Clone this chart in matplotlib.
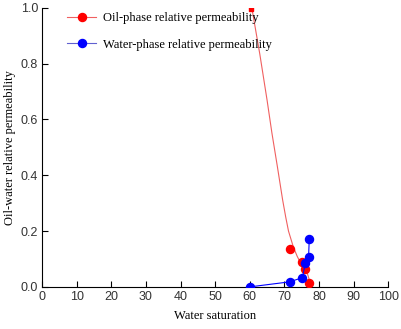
import matplotlib.pyplot as plt
from matplotlib.lines import Line2D

# ========== data ==========
# oil-phase measured points
oil_sw = [71.5, 75.0, 76.1, 77.2]
oil_kr = [0.137, 0.090, 0.065, 0.014]

# oil-phase end point (drawn as a small mark at the top)
oil_end_sw = [60.5]
oil_end_kr = [0.995]

# oil-phase fitted curve (as drawn in the reference)
oil_fit_sw = [60.6, 62.9, 65.0, 66.4, 68.0, 69.5, 70.4, 71.2, 72.6, 73.7, 74.6, 76.3, 77.5]
oil_fit_kr = [1.0, 0.835, 0.670, 0.552, 0.430, 0.312, 0.250, 0.200, 0.143, 0.110, 0.088, 0.062, 0.014]

# water-phase points
water_sw = [60.0, 71.5, 75.2, 76.1, 77.0, 77.2]
water_kr = [0.0, 0.018, 0.033, 0.086, 0.107, 0.172]

xticks = list(range(0, 101, 10))
yticks = [0.0, 0.2, 0.4, 0.6, 0.8, 1.0]

# ========== plot ==========
fig = plt.figure(figsize=(4.01, 3.29), dpi=100)
ax = fig.add_axes([0.105, 0.128, 0.863, 0.848])

red = '#ff0000'
blue = '#0000ff'
ms = 5.8

ax.plot(oil_fit_sw, oil_fit_kr, color='#f06060', lw=0.8, zorder=2)
ax.plot(oil_sw, oil_kr, 'o', color=red, ms=ms, zorder=3)
ax.plot(oil_end_sw, oil_end_kr, 's', color=red, ms=2.5, zorder=3)
ax.plot(water_sw, water_kr, '-o', color=blue, lw=0.8, ms=ms, zorder=4)

ax.set_xlim(0, 100)
ax.set_ylim(0, 1.0)
ax.set_xticks(xticks)
ax.set_yticks(yticks)
ax.set_yticklabels([f'{v:.1f}' for v in yticks])

for lab in ax.get_xticklabels() + ax.get_yticklabels():
    lab.set_fontfamily('Liberation Sans')
    lab.set_fontsize(9)
    lab.set_color('#333333')

ax.tick_params(direction='in', length=4, width=0.8, pad=3)
ax.spines['top'].set_visible(False)
ax.spines['right'].set_visible(False)

ax.set_xlabel('Water saturation', fontfamily='Liberation Serif', fontsize=9, labelpad=5)
ax.set_ylabel('Oil-water relative permeability', fontfamily='Liberation Serif', fontsize=9, labelpad=3)

handles = [
    Line2D([], [], color='#f06060', lw=0.8, marker='o', ms=ms, markerfacecolor=red, markeredgecolor=red),
    Line2D([], [], color='#6060d0', lw=0.8, marker='o', ms=ms, markerfacecolor=blue, markeredgecolor=blue),
]
ax.legend(handles, ['Oil-phase relative permeability', 'Water-phase relative permeability'],
          loc='upper left', bbox_to_anchor=(0.04, 1.025), frameon=False,
          prop={'family': 'Liberation Serif', 'size': 9},
          handlelength=2.3, labelspacing=1.15, handletextpad=0.6, numpoints=1)

fig.savefig('out.png', dpi=100)
